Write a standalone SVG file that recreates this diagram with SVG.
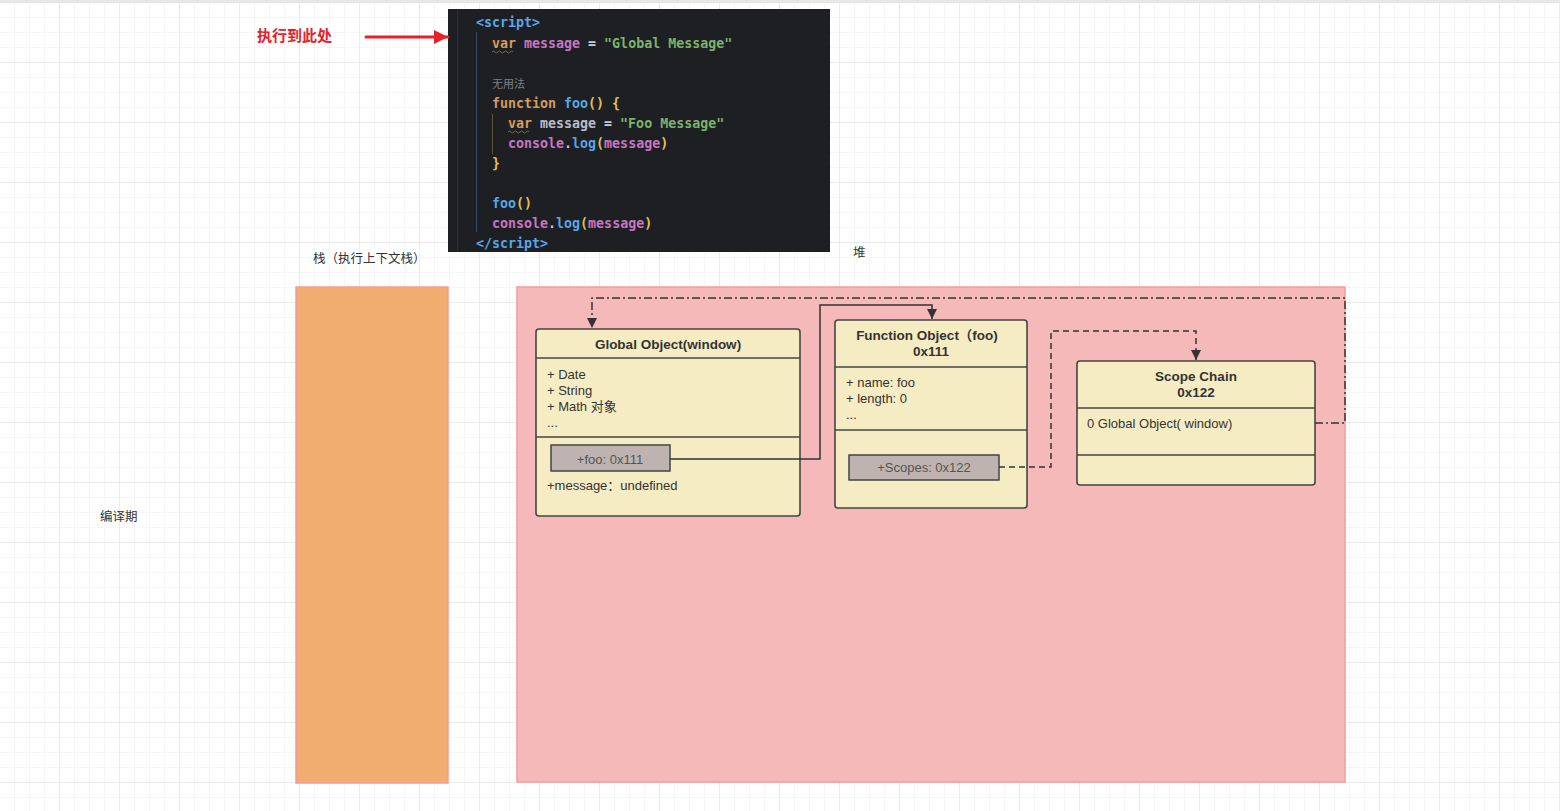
<svg xmlns="http://www.w3.org/2000/svg" width="1560" height="811" viewBox="0 0 1560 811">
<defs>
<pattern id="gminor" x="0" y="3" width="15" height="15" patternUnits="userSpaceOnUse">
<path d="M15 0V15M0 15H15" fill="none" stroke="#ececec" stroke-width="1"/>
</pattern>
<pattern id="gmajor" x="0" y="3" width="60" height="60" patternUnits="userSpaceOnUse">
<path d="M60 0V60M0 60H60" fill="none" stroke="#e0e0e0" stroke-width="1"/>
</pattern>
<marker id="ah" viewBox="0 0 10 10" refX="10" refY="5" markerWidth="10" markerHeight="10" markerUnits="userSpaceOnUse" orient="auto">
<path d="M0 0L10 5L0 10Z" fill="#333"/>
</marker>
<marker id="red" viewBox="0 0 10 10" refX="10" refY="5" markerWidth="20" markerHeight="14" markerUnits="userSpaceOnUse" orient="auto">
<path d="M0 0L10 5L0 10Z" fill="#e8202a"/>
</marker>
</defs>
<style>
.t{font-family:"Liberation Sans","Noto Sans CJK SC",sans-serif;font-size:13px;fill:#333}
.b{font-weight:bold;text-anchor:middle;font-size:13.5px;fill:#333}
.cj{font-family:"Noto Sans CJK SC",sans-serif;font-size:12.5px;fill:#333}
.box{fill:#f6ecc3;stroke:#444;stroke-width:1.6}
.ln{stroke:#444;stroke-width:1.6}
.slot{fill:#beb3b0;stroke:#444;stroke-width:1.5}
.sl{fill:#555;text-anchor:middle}
.c{font-family:"DejaVu Sans Mono","Liberation Mono",monospace;font-size:13.3px;font-weight:bold}
.tag{fill:#5aa5e6}.kw{fill:#d69a5f}.pk{fill:#c677c4}.gr{fill:#7ab46e}.wt{fill:#c8ccd4}.bl{fill:#5aa5e6}.yl{fill:#e5c14c}.lg{fill:#b8bec9}
.conn{fill:none;stroke:#333;stroke-width:1.5}
</style>
<rect width="1560" height="811" fill="#fff"/>
<rect width="1560" height="811" fill="url(#gminor)"/>
<rect width="1560" height="811" fill="url(#gmajor)"/>
<rect width="1560" height="3" fill="#e6e6e6"/>

<g id="code">
<rect x="448" y="9" width="382" height="243" fill="#1e1f22"/>
<line x1="457.5" y1="9" x2="457.5" y2="252" stroke="#2d2e32" stroke-width="1"/>
<line x1="476.5" y1="32" x2="476.5" y2="232" stroke="#34506e" stroke-width="1"/>
<line x1="492.5" y1="114" x2="492.5" y2="154" stroke="#5e5230" stroke-width="1"/>
<text class="c" x="476" y="27"><tspan class="tag">&lt;script&gt;</tspan></text>
<text class="c" x="492" y="48"><tspan class="kw">var</tspan><tspan class="pk"> message</tspan><tspan class="wt"> = </tspan><tspan class="gr">"Global Message"</tspan></text>
<path d="M492 52q1.5-2 3 0t3 0t3 0t3 0t3 0t3 0t3 0" fill="none" stroke="#9a7d3a" stroke-width="0.8"/>
<text x="492" y="88" style="font-family:'Noto Sans CJK SC',sans-serif;font-size:11px;fill:#7d7f85">无用法</text>
<text class="c" x="492" y="108"><tspan class="kw">function</tspan><tspan class="bl"> foo</tspan><tspan class="yl">() {</tspan></text>
<text class="c" x="508" y="128"><tspan class="kw">var</tspan><tspan class="lg"> message</tspan><tspan class="wt"> = </tspan><tspan class="gr">"Foo Message"</tspan></text>
<path d="M508 132q1.5-2 3 0t3 0t3 0t3 0t3 0t3 0t3 0" fill="none" stroke="#9a7d3a" stroke-width="0.8"/>
<text class="c" x="508" y="148"><tspan class="pk">console</tspan><tspan class="wt">.</tspan><tspan class="bl">log</tspan><tspan class="yl">(</tspan><tspan class="pk">message</tspan><tspan class="yl">)</tspan></text>
<text class="c" x="492" y="168"><tspan class="yl">}</tspan></text>
<text class="c" x="492" y="208"><tspan class="bl">foo</tspan><tspan class="yl">()</tspan></text>
<text class="c" x="492" y="228"><tspan class="pk">console</tspan><tspan class="wt">.</tspan><tspan class="bl">log</tspan><tspan class="yl">(</tspan><tspan class="pk">message</tspan><tspan class="yl">)</tspan></text>
<text class="c" x="476" y="248"><tspan class="tag">&lt;/script&gt;</tspan></text>
</g>

<g id="pointer">
<text x="257" y="41" style="font-family:'Noto Sans CJK SC',sans-serif;font-size:15px;font-weight:bold;fill:#e8202a">执行到此处</text>
<line x1="366" y1="37" x2="448" y2="37" stroke="#e8202a" stroke-width="3" stroke-linecap="round" marker-end="url(#red)"/>
</g>

<g id="labels">
<text class="cj" x="313" y="263">栈（执行上下文栈）</text>
<text class="cj" x="853" y="257">堆</text>
<text class="cj" x="100" y="521">编译期</text>
</g>

<g id="stack">
<rect x="296" y="287" width="152" height="496" fill="#f0ad6f" stroke="#f39c9c" stroke-width="1.5"/>
</g>
<g id="heap">
<rect x="517" y="287" width="828" height="495" fill="#f5b9b9" stroke="#f39c9c" stroke-width="1.5"/>
</g>

<g id="global-object">
<rect class="box" x="536" y="329" width="264" height="187" rx="3"/>
<line class="ln" x1="536" y1="358" x2="800" y2="358"/>
<line class="ln" x1="536" y1="437" x2="800" y2="437"/>
<text class="t b" x="668" y="349">Global Object(window)</text>
<text class="t" x="547" y="379">+ Date</text>
<text class="t" x="547" y="395">+ String</text>
<text class="t" x="547" y="411">+ Math 对象</text>
<text class="t" x="547" y="427">...</text>
<rect class="slot" x="551" y="445" width="119" height="26"/>
<text class="t sl" x="610" y="464">+foo: 0x111</text>
<text class="t" x="547" y="490">+message：undefined</text>
</g>

<g id="function-object">
<rect class="box" x="835" y="320" width="192" height="188" rx="3"/>
<line class="ln" x1="835" y1="367" x2="1027" y2="367"/>
<line class="ln" x1="835" y1="430" x2="1027" y2="430"/>
<text class="t b" x="927" y="340">Function Object（foo)</text>
<text class="t b" x="931" y="356">0x111</text>
<text class="t" x="846" y="387">+ name: foo</text>
<text class="t" x="846" y="403">+ length: 0</text>
<text class="t" x="846" y="419">...</text>
<rect class="slot" x="849" y="455" width="150" height="25"/>
<text class="t sl" x="924" y="472">+Scopes: 0x122</text>
</g>

<g id="scope-chain">
<rect class="box" x="1077" y="361" width="238" height="124" rx="3"/>
<line class="ln" x1="1077" y1="408" x2="1315" y2="408"/>
<line class="ln" x1="1077" y1="455" x2="1315" y2="455"/>
<text class="t b" x="1196" y="381">Scope Chain</text>
<text class="t b" x="1196" y="397">0x122</text>
<text class="t" x="1087" y="428">0 Global Object( window)</text>
</g>

<g id="connectors">
<path class="conn" d="M670 459H820V305H932V319" marker-end="url(#ah)"/>
<path class="conn" d="M999 467H1051V331H1196V360" stroke-dasharray="6 4" marker-end="url(#ah)"/>
<path class="conn" d="M1315 423H1345V298H592V328" stroke-dasharray="8 3 2 3" marker-end="url(#ah)"/>
</g>
</svg>
